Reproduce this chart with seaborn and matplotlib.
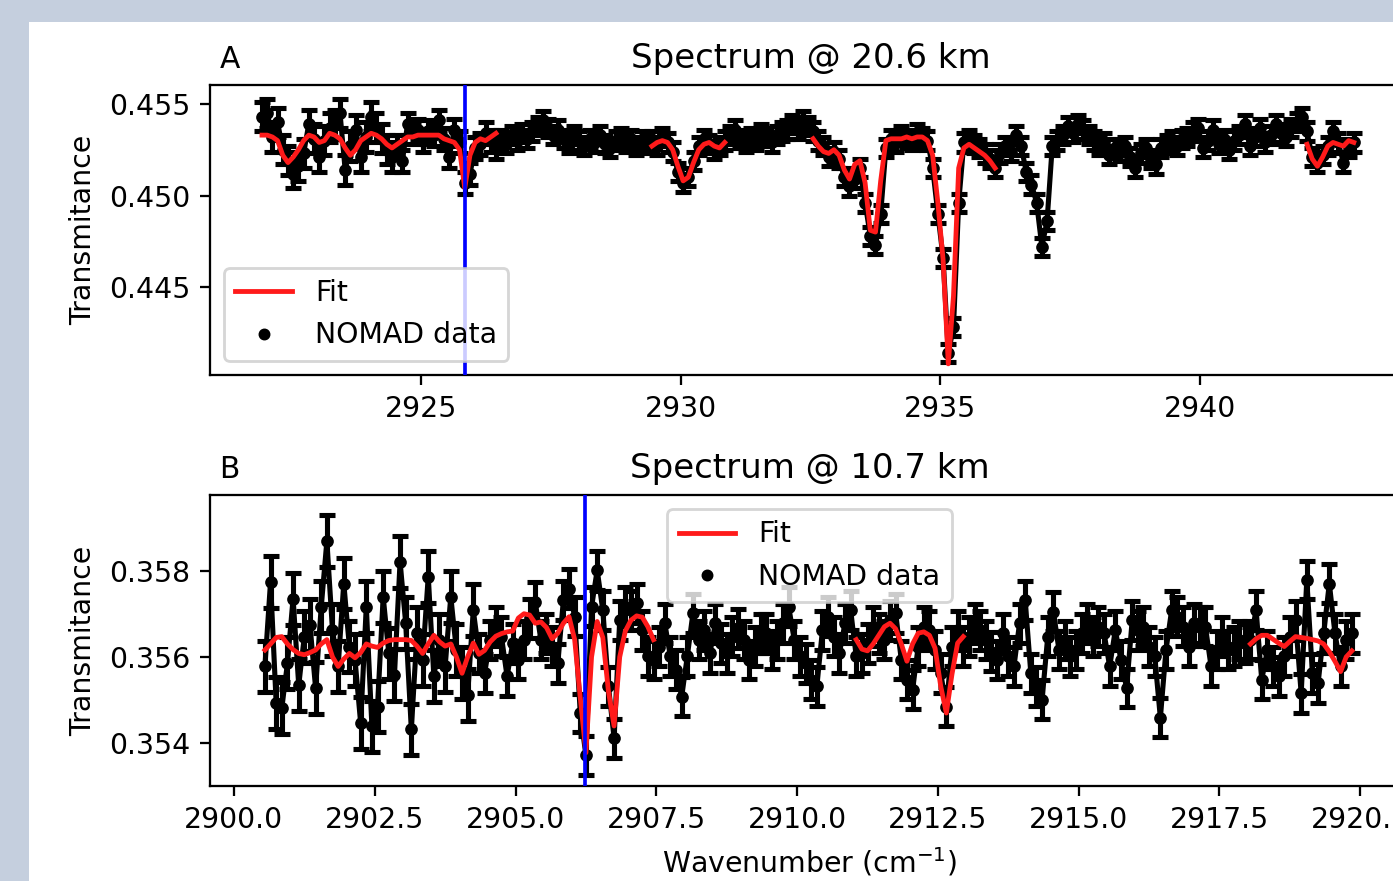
import numpy as np
import pandas as pd
import seaborn as sns
import matplotlib
matplotlib.use("Agg")
import matplotlib.pyplot as plt
from matplotlib.lines import Line2D
from matplotlib.patches import Rectangle
from matplotlib.ticker import FormatStrFormatter

# ---- panel A : spectrum @ 20.6 km, evenly sampled grid (0.1 cm-1)
WN_A_FIRST, WN_A_LAST, N_A = 2921.95, 2942.95, 211
TRANS_A = [
    0.4543, 0.4545, 0.4532, 0.4540, 0.4525, 0.4519, 0.4512, 0.4516, 0.4523, 0.4539,
    0.4531, 0.4521, 0.4530, 0.4537, 0.4539, 0.4545, 0.4514, 0.4527, 0.4536, 0.4521,
    0.4532, 0.4543, 0.4537, 0.4531, 0.4525, 0.4521, 0.4527, 0.4519, 0.4539, 0.4534,
    0.4536, 0.4530, 0.4535, 0.4533, 0.4541, 0.4531, 0.4521, 0.4536, 0.4529, 0.4507,
    0.4512, 0.4526, 0.4528, 0.4534, 0.4530, 0.4526,
    0.4531, 0.4528, 0.4533, 0.4530, 0.4534, 0.4531, 0.4535, 0.4538, 0.4541, 0.4537,
    0.4533, 0.4536, 0.4531, 0.4528, 0.4533, 0.4530, 0.4527, 0.4531, 0.4529, 0.4533,
    0.4528, 0.4526, 0.4530, 0.4532, 0.4529, 0.4531, 0.4527, 0.4530, 0.4528,
    0.4530, 0.4527, 0.4532, 0.4529, 0.4524, 0.4513, 0.4507, 0.4510, 0.4519, 0.4527,
    0.4531, 0.4528, 0.4525, 0.4527, 0.4530,
    0.4533, 0.4536, 0.4531, 0.4529, 0.4532, 0.4530, 0.4534, 0.4532, 0.4529, 0.4533,
    0.4535, 0.4536, 0.4539, 0.4536, 0.4541, 0.4538,
    0.4535, 0.4530, 0.4527, 0.4521, 0.4524, 0.4520, 0.4510, 0.4505, 0.4509, 0.4515,
    0.4496, 0.4478, 0.4473, 0.4490, 0.4526, 0.4531, 0.4529, 0.4533, 0.4531, 0.4530,
    0.4534, 0.4532, 0.4530, 0.4515, 0.4490, 0.4466, 0.4414, 0.4428, 0.4496, 0.4529,
    0.4531, 0.4528, 0.4526, 0.4523, 0.4520, 0.4515,
    0.4523, 0.4527, 0.4524, 0.4533, 0.4527, 0.4513, 0.4506, 0.4496, 0.4472, 0.4486,
    0.4527, 0.4530, 0.4533, 0.4538, 0.4534, 0.4539, 0.4536, 0.4533, 0.4530, 0.4527,
    0.4529, 0.4522, 0.4526, 0.4524, 0.4527, 0.4521, 0.4515, 0.4523, 0.4526, 0.4520,
    0.4517, 0.4526, 0.4528, 0.4530, 0.4527, 0.4531, 0.4532, 0.4535, 0.4537, 0.4526,
    0.4530, 0.4536, 0.4528, 0.4531, 0.4525, 0.4530, 0.4533, 0.4539, 0.4527, 0.4532,
    0.4537, 0.4529, 0.4533, 0.4539, 0.4534, 0.4532, 0.4537, 0.4540, 0.4543,
    0.4535, 0.4521, 0.4518, 0.4522, 0.4527, 0.4535, 0.4529, 0.4518, 0.4526, 0.4529,
]
ERR_A = [0.0008] * 26 + [0.0006] * 20 + [0.0005] * 165
FIT_A = (
    [0.4533, 0.4533, 0.4532, 0.4530, 0.4522, 0.4518, 0.4521, 0.4525, 0.4530, 0.4533,
     0.4532, 0.4529, 0.4530, 0.4534, 0.4533, 0.4531, 0.4526, 0.4522, 0.4525, 0.4530,
     0.4532, 0.4534, 0.4533, 0.4531, 0.4528, 0.4526, 0.4528, 0.4530, 0.4532, 0.4532,
     0.4533, 0.4533, 0.4533, 0.4533, 0.4533, 0.4531, 0.4530, 0.4529, 0.4525, 0.4504,
     0.4522, 0.4529, 0.4531, 0.4530, 0.4532, 0.4534]
    + [None] * 29
    + [0.4527, 0.4529, 0.4530, 0.4529, 0.4525, 0.4516, 0.4508, 0.4510, 0.4518, 0.4525,
       0.4528, 0.4529, 0.4527, 0.4526, 0.4529]
    + [None] * 16
    + [0.4531, 0.4527, 0.4524, 0.4523, 0.4525, 0.4522, 0.4514, 0.4509, 0.4517, 0.4519,
       0.4507, 0.4481, 0.4480, 0.4508, 0.4530, 0.4531, 0.4531, 0.4531, 0.4532, 0.4531,
       0.4532, 0.4532, 0.4530, 0.4522, 0.4496, 0.4465, 0.4408, 0.4445, 0.4515, 0.4526,
       0.4528, 0.4526, 0.4524, 0.4522, 0.4519, 0.4515]
    + [None] * 59
    + [0.4528, 0.4520, 0.4516, 0.4521, 0.4527, 0.4529, 0.4528, 0.4527, 0.4530, 0.4529]
)
LINE_A = 2925.86

# ---- panel B : spectrum @ 10.7 km
WN_B_FIRST, WN_B_LAST, N_B = 2900.55, 2919.85, 194
TRANS_B = [
    0.35578, 0.35774, 0.35493, 0.35482, 0.35585, 0.35735, 0.35535, 0.35647, 0.35674, 0.35528,
    0.35716, 0.35868, 0.35662, 0.35578, 0.35770, 0.35624, 0.35593, 0.35447, 0.35716, 0.35439,
    0.35485, 0.35739, 0.35608, 0.35558, 0.35820, 0.35678, 0.35432, 0.35655, 0.35593, 0.35786,
    0.35555, 0.35639, 0.35578, 0.35739, 0.35616, 0.35562, 0.35512, 0.35708,
    0.35608, 0.35562, 0.35639, 0.35670, 0.35647, 0.35555, 0.35632, 0.35593, 0.35639, 0.35689,
    0.35728, 0.35639, 0.35655, 0.35624, 0.35585, 0.35731, 0.35758, 0.35693, 0.35470, 0.35372,
    0.35716, 0.35801, 0.35708, 0.35532, 0.35412, 0.35685, 0.35716, 0.35708, 0.35724, 0.35662,
    0.35601, 0.35593, 0.35624, 0.35678, 0.35601, 0.35570, 0.35508, 0.35601, 0.35701,
    0.35639, 0.35662, 0.35608, 0.35678, 0.35632, 0.35608, 0.35647, 0.35666, 0.35639, 0.35593,
    0.35624, 0.35655, 0.35655, 0.35616, 0.35639, 0.35678, 0.35716, 0.35639, 0.35601, 0.35585,
    0.35547, 0.35532, 0.35662, 0.35693, 0.35647, 0.35608, 0.35678, 0.35708, 0.35601, 0.35608,
    0.35632, 0.35670, 0.35655, 0.35639, 0.35685, 0.35701, 0.35593, 0.35547, 0.35524,
    0.35624, 0.35670, 0.35662, 0.35616, 0.35562, 0.35485, 0.35624, 0.35662, 0.35624, 0.35647,
    0.35678, 0.35662, 0.35639, 0.35612, 0.35593, 0.35655, 0.35601, 0.35578, 0.35678, 0.35731,
    0.35562, 0.35532, 0.35501, 0.35647, 0.35705, 0.35616, 0.35639, 0.35601, 0.35616, 0.35655,
    0.35678, 0.35647, 0.35670, 0.35655, 0.35578, 0.35662, 0.35593, 0.35528, 0.35685,
    0.35662, 0.35670, 0.35624, 0.35601, 0.35459, 0.35616, 0.35708, 0.35693, 0.35670, 0.35624,
    0.35678, 0.35670, 0.35670, 0.35578, 0.35616, 0.35647, 0.35616, 0.35624, 0.35639, 0.35632,
    0.35639, 0.35708, 0.35547, 0.35616, 0.35578, 0.35555, 0.35601, 0.35647, 0.35685, 0.35516,
    0.35778, 0.35562, 0.35539, 0.35655, 0.35770, 0.35655, 0.35578, 0.35639, 0.35655,
]
ERR_B = [0.0006] * 38 + [0.00045] * 156
FIT_B = (
    [0.35616, 0.35630, 0.35645, 0.35647, 0.35630, 0.35617, 0.35608, 0.35605, 0.35610, 0.35616,
     0.35630, 0.35640, 0.35600, 0.35578, 0.35595, 0.35608, 0.35598, 0.35610, 0.35630, 0.35625,
     0.35622, 0.35632, 0.35638, 0.35640, 0.35640, 0.35640, 0.35638, 0.35625, 0.35608, 0.35630,
     0.35650, 0.35635, 0.35625, 0.35630, 0.35600, 0.35562, 0.35600, 0.35632,
     0.35606, 0.35615, 0.35635, 0.35648, 0.35654, 0.35658, 0.35660, 0.35690, 0.35700, 0.35697,
     0.35678, 0.35681, 0.35668, 0.35642, 0.35655, 0.35678, 0.35693, 0.35640, 0.35505, 0.35378,
     0.35600, 0.35682, 0.35645, 0.35520, 0.35440, 0.35600, 0.35660, 0.35685, 0.35695, 0.35692,
     0.35670, 0.35640]
    + [None] * 35
    + [0.35640, 0.35618, 0.35614, 0.35630, 0.35650, 0.35670, 0.35678, 0.35665, 0.35630, 0.35590,
       0.35630, 0.35655, 0.35658, 0.35650, 0.35620, 0.35532, 0.35470, 0.35560, 0.35632, 0.35647]
    + [None] * 50
    + [0.35630, 0.35642, 0.35650, 0.35650, 0.35641, 0.35632, 0.35624, 0.35636, 0.35647, 0.35645,
       0.35643, 0.35640, 0.35637, 0.35630, 0.35612, 0.35590, 0.35566, 0.35600, 0.35614]
)
LINE_B = 2906.23

W, H, DPI = 1393, 881, 204


def make_frame(first, last, n, trans, err, fit):
    df = pd.DataFrame({
        "wn": np.linspace(first, last, n),
        "trans": trans,
        "err": err,
        "fit": pd.to_numeric(pd.Series(fit), errors="coerce"),
    })
    df["seg"] = df["fit"].isna().cumsum()
    return df


def draw_panel(ax, df, line_at, title, letter, legend_loc):
    ax.errorbar(df["wn"], df["trans"], yerr=df["err"], fmt="none", ecolor="k",
                elinewidth=1.8, capsize=2.8, capthick=1.8, zorder=2)
    sns.lineplot(data=df, x="wn", y="trans", color="k", lw=1.8,
                 estimator=None, sort=False, ax=ax, zorder=2)
    sns.scatterplot(data=df, x="wn", y="trans", color="k", s=20, linewidth=0,
                    ax=ax, zorder=3)
    fit = df.dropna(subset=["fit"])
    sns.lineplot(data=fit, x="wn", y="fit", units="seg", estimator=None,
                 color="#ff1a1a", lw=1.7, ax=ax, zorder=4)
    ax.axvline(line_at, color="#0000ff", lw=1.3, zorder=5)

    ax.set_title(title)
    ax.set_title(letter, loc="left", fontsize=10.5, x=0.008)
    ax.set_xlabel("")
    ax.set_ylabel("Transmitance")

    handles = [Line2D([], [], color="#ff1a1a", lw=1.7, label="Fit"),
               Line2D([], [], ls="none", marker="o", ms=3.2, color="k",
                      label="NOMAD data")]
    ax.legend(handles=handles, loc=legend_loc)


def main():
    df_a = make_frame(WN_A_FIRST, WN_A_LAST, N_A, TRANS_A, ERR_A, FIT_A)
    df_b = make_frame(WN_B_FIRST, WN_B_LAST, N_B, TRANS_B, ERR_B, FIT_B)

    fig = plt.figure(figsize=(W / DPI, H / DPI), dpi=DPI, facecolor="#c5cfde")
    fig.add_artist(Rectangle((29 / W, 0), 1, 1 - 22 / H, transform=fig.transFigure,
                             facecolor="white", edgecolor="none", zorder=-1))

    ax1 = fig.add_axes([210 / W, 1 - 375 / H, 1201 / W, 290 / H])
    ax2 = fig.add_axes([210 / W, 1 - 786 / H, 1199 / W, 291 / H])

    draw_panel(ax1, df_a, LINE_A, "Spectrum @ 20.6 km", "A", "lower left")
    ax1.set_xlim(2920.95, 2944.05)
    ax1.set_ylim(0.44019, 0.45604)
    ax1.set_xticks([2925, 2930, 2935, 2940])
    ax1.set_yticks([0.445, 0.450, 0.455])
    ax1.xaxis.set_major_formatter(FormatStrFormatter("%d"))
    ax1.yaxis.set_major_formatter(FormatStrFormatter("%.3f"))

    draw_panel(ax2, df_b, LINE_B, "Spectrum @ 10.7 km", "B", "upper center")
    ax2.set_xlim(2899.575, 2920.865)
    ax2.set_ylim(0.35301, 0.35975)
    ax2.set_xticks([2900.0, 2902.5, 2905.0, 2907.5, 2910.0, 2912.5, 2915.0, 2917.5, 2920.0])
    ax2.set_yticks([0.354, 0.356, 0.358])
    ax2.xaxis.set_major_formatter(FormatStrFormatter("%.1f"))
    ax2.yaxis.set_major_formatter(FormatStrFormatter("%.3f"))
    ax2.set_xlabel("Wavenumber (cm$^{-1}$)")

    fig.savefig("out.png", dpi=DPI)


if __name__ == "__main__":
    main()
